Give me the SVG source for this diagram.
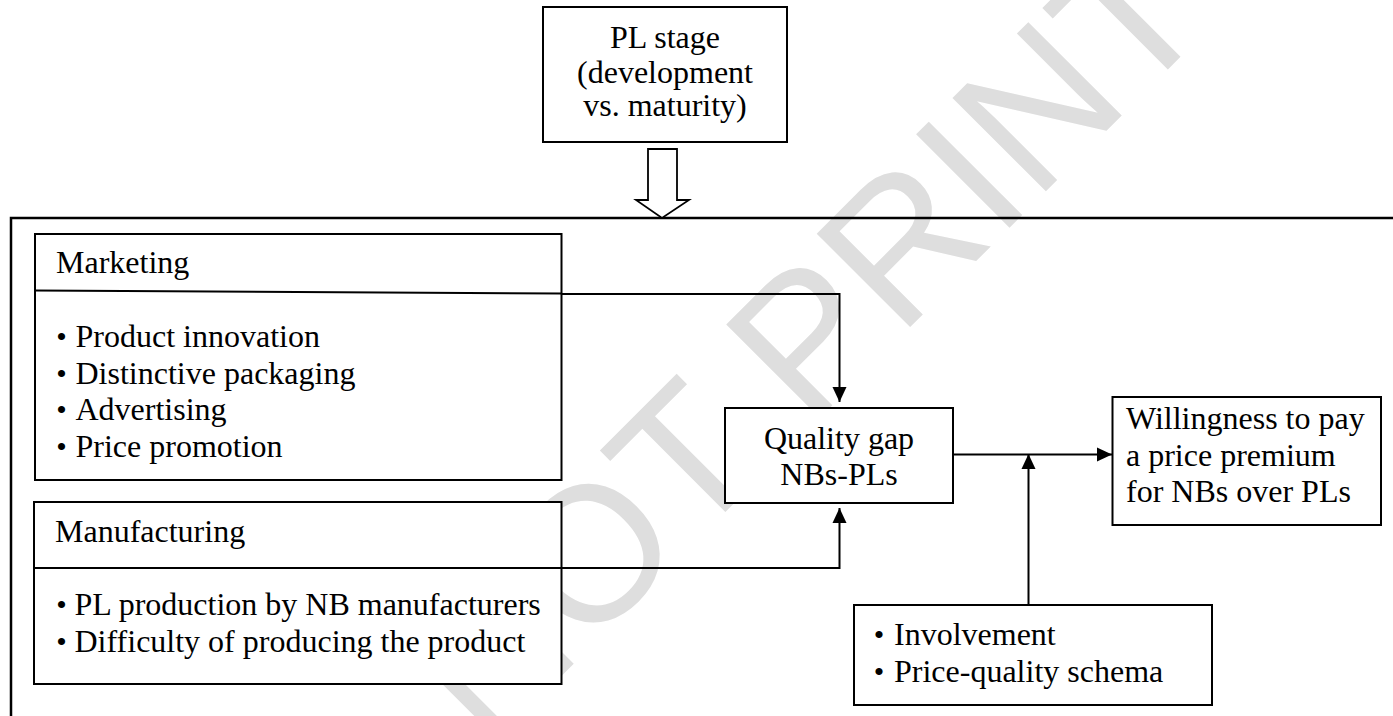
<svg xmlns="http://www.w3.org/2000/svg" width="1393" height="716" viewBox="0 0 1393 716">
<style>
.t{font-family:"Liberation Serif","Times New Roman",serif;font-size:32px;fill:#000}
.c{text-anchor:middle}
.bu{font-family:"Liberation Serif","Times New Roman",serif;font-size:30px;fill:#000;text-anchor:middle}
.b{fill:#fff;stroke:#000;stroke-width:2}
.ln{fill:none;stroke:#000;stroke-width:2}
.wm{font-family:"Liberation Sans",Arial,sans-serif;font-size:192px;fill:#dedede}
</style>
<defs>
<marker id="ah" markerUnits="userSpaceOnUse" markerWidth="16" markerHeight="16" viewBox="0 0 16 16" refX="15" refY="8" orient="auto">
<path d="M0,1 L15,8 L0,15 Z" fill="#000"/>
</marker>
</defs>
<rect width="1393" height="716" fill="#fff"/>
<text class="wm" transform="translate(245.3,992.1) rotate(-45)">DO NOT PRINT</text>

<g id="frame"><path d="M1396,218 H11 V720" fill="none" stroke="#000" stroke-width="2.5"/></g>

<g id="pl-stage">
<rect class="b" x="543" y="7" width="244" height="135"/>
<text class="t c" x="665" y="48">PL stage</text>
<text class="t c" x="665" y="83">(development</text>
<text class="t c" x="665" y="116">vs. maturity)</text>
</g>

<g id="block-arrow">
<path d="M648,149 H677 V200 H689 L662,218 L636,200 H648 Z" fill="#fff" stroke="#000" stroke-width="1.8" stroke-linejoin="miter"/>
</g>

<g id="marketing">
<rect class="b" x="35" y="234" width="526.5" height="246"/>
<line class="ln" x1="35" y1="290.5" x2="561.5" y2="293.5"/>
<text class="t" x="56" y="273">Marketing</text>
<text class="bu" x="61.5" y="347">•</text><text class="t" x="75.5" y="347">Product innovation</text>
<text class="bu" x="61.5" y="383.5">•</text><text class="t" x="75.5" y="383.5">Distinctive packaging</text>
<text class="bu" x="61.5" y="420">•</text><text class="t" x="75.5" y="420">Advertising</text>
<text class="bu" x="61.5" y="456.5">•</text><text class="t" x="75.5" y="456.5">Price promotion</text>
</g>

<g id="manufacturing">
<rect class="b" x="34" y="502" width="527.5" height="182"/>
<line class="ln" x1="34" y1="568" x2="561.5" y2="568"/>
<text class="t" x="55" y="541.5">Manufacturing</text>
<text class="bu" x="61.5" y="615">•</text><text class="t" x="74.5" y="615">PL production by NB manufacturers</text>
<text class="bu" x="61.5" y="651.5">•</text><text class="t" x="74.5" y="651.5">Difficulty of producing the product</text>
</g>

<g id="quality-gap">
<rect class="b" x="725" y="408" width="228" height="95"/>
<text class="t c" x="839" y="448.5">Quality gap</text>
<text class="t c" x="839" y="484.5">NBs-PLs</text>
</g>

<g id="willingness">
<rect class="b" x="1112.5" y="397" width="268.5" height="128"/>
<text class="t" x="1126" y="428.5">Willingness to pay</text>
<text class="t" x="1126" y="465.5">a price premium</text>
<text class="t" x="1126" y="502">for NBs over PLs</text>
</g>

<g id="moderators">
<rect class="b" x="854" y="605" width="358" height="100"/>
<text class="bu" x="879" y="645">•</text><text class="t" x="894" y="645">Involvement</text>
<text class="bu" x="879" y="681.5">•</text><text class="t" x="894" y="681.5">Price-quality schema</text>
</g>

<g id="connectors">
<path class="ln" d="M561.5,294 H839.5 V402" marker-end="url(#ah)"/>
<path class="ln" d="M561.5,568 H839.5 V508" marker-end="url(#ah)"/>
<path class="ln" d="M953,454.5 H1112" marker-end="url(#ah)"/>
<path class="ln" d="M1028.5,605 V454" marker-end="url(#ah)"/>
</g>
</svg>
